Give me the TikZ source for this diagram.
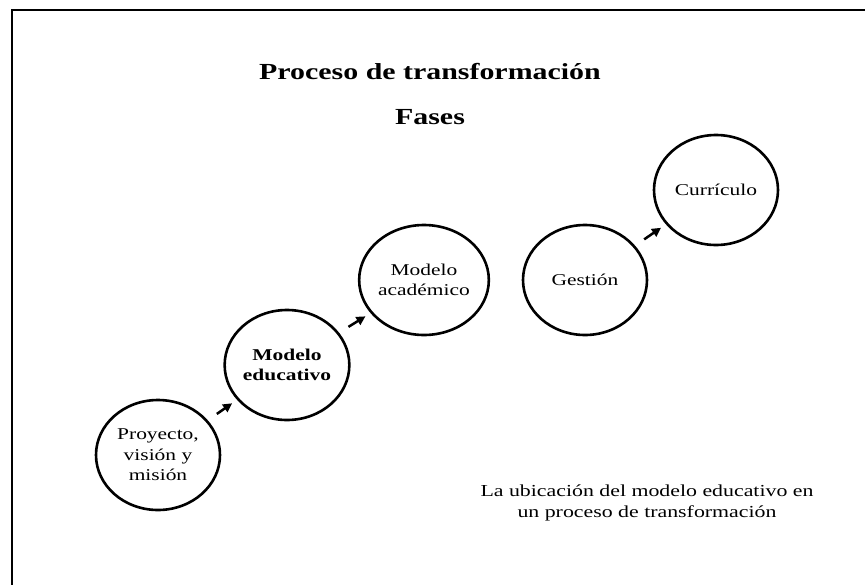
\documentclass[tikz,border=0pt]{standalone}
\usepackage{fontspec}
\setmainfont{Liberation Serif}[FakeStretch=1.3]
\usepackage{tikz}
\usetikzlibrary{arrows.meta,shapes.geometric}

\begin{document}
\begin{tikzpicture}[x=1pt,y=-1pt]
          \tikzstyle{fase} = [ellipse, draw, line width=2.6pt, minimum width=124pt, minimum height=110pt, inner sep=0pt, align=center, font=\fontsize{16.5}{20.5}\selectfont]
          \tikzstyle{paso} = [line width=2.5pt, -{Triangle[length=9pt,width=9pt]}, shorten <=11pt, shorten >=6pt]
        \useasboundingbox (0,0) rectangle (865,584);
        \draw[line width=2.6pt] (12,590) -- (12,10) -- (870,10);
        \node[font=\fontsize{23}{26}\selectfont\bfseries] (titulo) at (430,72) {Proceso de transformación};
        \node[font=\fontsize{23}{26}\selectfont\bfseries] (fases) at (430,117) {Fases};
        \node[fase] (1) at (158,455) {Proyecto,\\visión y\\misión};
        \node[fase, font=\fontsize{16.5}{20.5}\selectfont\bfseries] (2) at (287,365) {Modelo\\educativo};
        \node[fase] (3) at (424,280) {Modelo\\académico};
        \node[fase] (4) at (585,280) {Gestión};
        \node[fase] (5) at (716,190) {Currículo};
        \node[align=center, font=\fontsize{16.8}{21.5}\selectfont] (nota) at (647,503) {La ubicación del modelo educativo en\\un proceso de transformación};
        \begin{scope}
          \draw[paso] (1) -- (2);
          \draw[paso] (2) -- (3);
          \draw[paso] (4) -- (5);
        \end{scope}
      \end{tikzpicture}
\end{document}
